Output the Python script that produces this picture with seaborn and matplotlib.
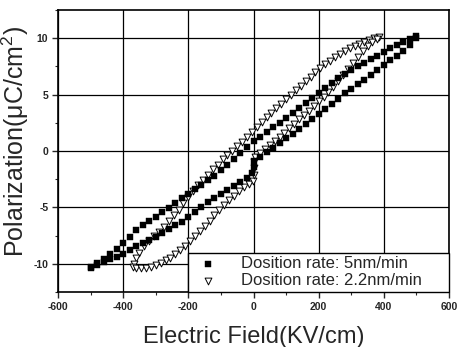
import matplotlib
matplotlib.use("Agg")
import matplotlib.pyplot as plt
import seaborn as sns
import pandas as pd
from matplotlib.ticker import MultipleLocator

# ---- data ----
sq_up_x = [500, 480, 460, 440, 420, 400, 380, 360, 340, 320, 300, 280, 260, 240, 220, 200,
           180, 160, 140, 120, 100, 80, 60, 40, 20, 0, -20, -40, -60, -80, -100, -120, -140,
           -160, -180, -200, -220, -240, -260, -280, -300, -320, -340, -360, -380, -400,
           -420, -440, -460, -480, -500]
sq_up_y = [10.2, 9.95, 9.7, 9.4, 9.1, 8.8, 8.45, 8.15, 7.8, 7.5, 7.15, 6.8, 6.45, 6.0, 5.6, 5.15,
           4.7, 4.25, 3.8, 3.35, 2.9, 2.5, 2.1, 1.7, 1.25, 0.85, 0.35, -0.15, -0.7, -1.2, -1.7,
           -2.2, -2.6, -3.0, -3.4, -3.8, -4.2, -4.65, -5.05, -5.45, -5.85, -6.2, -6.55, -7.0,
           -7.6, -8.2, -8.7, -9.1, -9.55, -9.95, -10.3]
sq_lo_x = [-500, -480, -460, -440, -420, -400, -380, -360, -340, -320, -300, -280, -260, -240,
           -220, -200, -180, -160, -140, -120, -100, -80, -60, -40, -20, -5, 1, 3, 20, 40, 60,
           80, 100, 120, 140, 160, 180, 200, 220, 240, 260, 280, 300, 320, 340, 360, 380, 400,
           420, 440, 460, 480, 500]
sq_lo_y = [-10.4, -10.1, -9.85, -9.6, -9.4, -9.15, -8.8, -8.45, -8.15, -7.9, -7.6, -7.3, -6.95,
           -6.6, -6.25, -5.85, -5.4, -4.95, -4.5, -4.2, -3.85, -3.5, -3.1, -2.75, -2.35, -1.95,
           -1.4, -0.85, -0.5, -0.1, 0.3, 0.7, 1.15, 1.55, 1.95, 2.35, 2.8, 3.3, 3.75, 4.2, 4.65,
           5.1, 5.5, 5.9, 6.3, 6.7, 7.15, 7.6, 8.05, 8.45, 8.85, 9.4, 10.0]

tr_up_x = [385, 370, 355, 340, 325, 310, 295, 280, 265, 250, 235, 220, 205, 190, 175, 160, 145,
           130, 115, 100, 85, 70, 55, 40, 25, 10, -5, -20, -35, -50, -65, -80, -95, -110, -125,
           -140, -155, -170, -185, -200, -215, -230, -245, -260, -275, -290, -305, -320, -335,
           -350, -360, -368, -371]
tr_up_y = [10.1, 10.0, 9.85, 9.7, 9.5, 9.3, 9.1, 8.85, 8.6, 8.3, 8.0, 7.7, 7.35, 7.0, 6.6, 6.2,
           5.8, 5.4, 5.0, 4.6, 4.2, 3.8, 3.4, 3.0, 2.6, 2.1, 1.65, 1.2, 0.8, 0.4, 0.0, -0.35,
           -0.75, -1.2, -1.6, -2.1, -2.55, -3.05, -3.55, -4.1, -4.65, -5.2, -5.7, -6.2, -6.7,
           -7.15, -7.55, -7.95, -8.45, -9.0, -9.5, -10.0, -10.3]
tr_lo_x = [-360, -345, -330, -315, -300, -285, -270, -255, -240, -225, -210, -195, -180, -165,
           -150, -135, -120, -105, -90, -75, -60, -45, -30, -15, -3, 1, 2, 3, 5, 20, 35, 50, 65,
           80, 95, 110, 125, 140, 155, 170, 185, 200, 215, 230, 245, 260, 275, 290, 305, 320,
           335, 350, 365, 378]
tr_lo_y = [-10.4, -10.4, -10.35, -10.25, -10.1, -9.9, -9.7, -9.45, -9.15, -8.8, -8.4, -8.0, -7.55,
           -7.1, -6.65, -6.2, -5.7, -5.25, -4.8, -4.35, -3.95, -3.55, -3.2, -2.9, -2.65, -2.1,
           -1.55, -1.0, -0.5, -0.15, 0.15, 0.5, 0.85, 1.2, 1.6, 2.0, 2.4, 2.8, 3.15, 3.55, 3.95,
           4.4, 4.8, 5.25, 5.7, 6.2, 6.7, 7.25, 7.8, 8.35, 8.9, 9.35, 9.7, 9.95]

label_sq = "Dosition rate: 5nm/min"
label_tr = "Dosition rate: 2.2nm/min"
x_ticks = [-600, -400, -200, 0, 200, 400, 600]
y_ticks = [-10, -5, 0, 5, 10]

df_sq = pd.DataFrame({"E": sq_up_x + sq_lo_x, "P": sq_up_y + sq_lo_y})
df_tr = pd.DataFrame({"E": tr_up_x + tr_lo_x, "P": tr_up_y + tr_lo_y})

sns.set_style("white")
plt.rcParams["font.family"] = ["Liberation Sans", "DejaVu Sans"]
plt.rcParams["axes.unicode_minus"] = False
plt.rcParams["mathtext.fontset"] = "custom"
plt.rcParams["mathtext.rm"] = "Liberation Sans"

fig = plt.figure(figsize=(4.58, 3.47), dpi=100)
ax = fig.add_axes([58 / 458, 1 - 292 / 347, 391 / 458, 282 / 347])

sns.scatterplot(data=df_tr, x="E", y="P", ax=ax, marker="v", s=24, facecolor="white",
                edgecolor="black", linewidth=0.7, label=label_tr, zorder=3)
sns.scatterplot(data=df_sq, x="E", y="P", ax=ax, marker="s", s=16, color="black",
                edgecolor="black", linewidth=0.3, label=label_sq, zorder=4)

ax.set_xlim(-600, 600)
ax.set_ylim(-12.5, 12.5)
ax.set_xticks(x_ticks)
ax.set_yticks(y_ticks)
ax.xaxis.set_minor_locator(MultipleLocator(100))
ax.yaxis.set_minor_locator(MultipleLocator(2.5))
ax.grid(True, which="major", color="black", linewidth=0.9)
ax.set_axisbelow(True)
ax.tick_params(axis="both", which="major", direction="out", length=4, width=1.0,
               labelsize=7.5, pad=3, bottom=True, left=True, top=False, right=False)
ax.tick_params(axis="both", which="minor", direction="out", length=2, width=0.8,
               bottom=True, left=True, top=False, right=False)
for lab in ax.get_xticklabels() + ax.get_yticklabels():
    lab.set_fontweight("bold")
for sp in ax.spines.values():
    sp.set_color("black")
    sp.set_linewidth(1.2)

ax.set_xlabel("Electric Field(KV/cm)", fontsize=17, labelpad=10)
ax.set_ylabel("Polarization(\u03bcC/cm$^\\mathregular{2}$)", fontsize=18)
ax.yaxis.set_label_coords(-0.068, 0.534)

handles, labels = ax.get_legend_handles_labels()
order = [labels.index(label_sq), labels.index(label_tr)]
leg = ax.legend([handles[i] for i in order], [labels[i] for i in order],
                loc="lower left", bbox_to_anchor=(0.332, 0, 0.668, 0.1), mode="expand",
                borderaxespad=0, borderpad=0.22, labelspacing=0.12, handlelength=2.0,
                handletextpad=1.0, fontsize=12, frameon=True, fancybox=False,
                edgecolor="black", framealpha=1)
leg.get_frame().set_linewidth(1.0)

fig.savefig("out.png", dpi=100)
